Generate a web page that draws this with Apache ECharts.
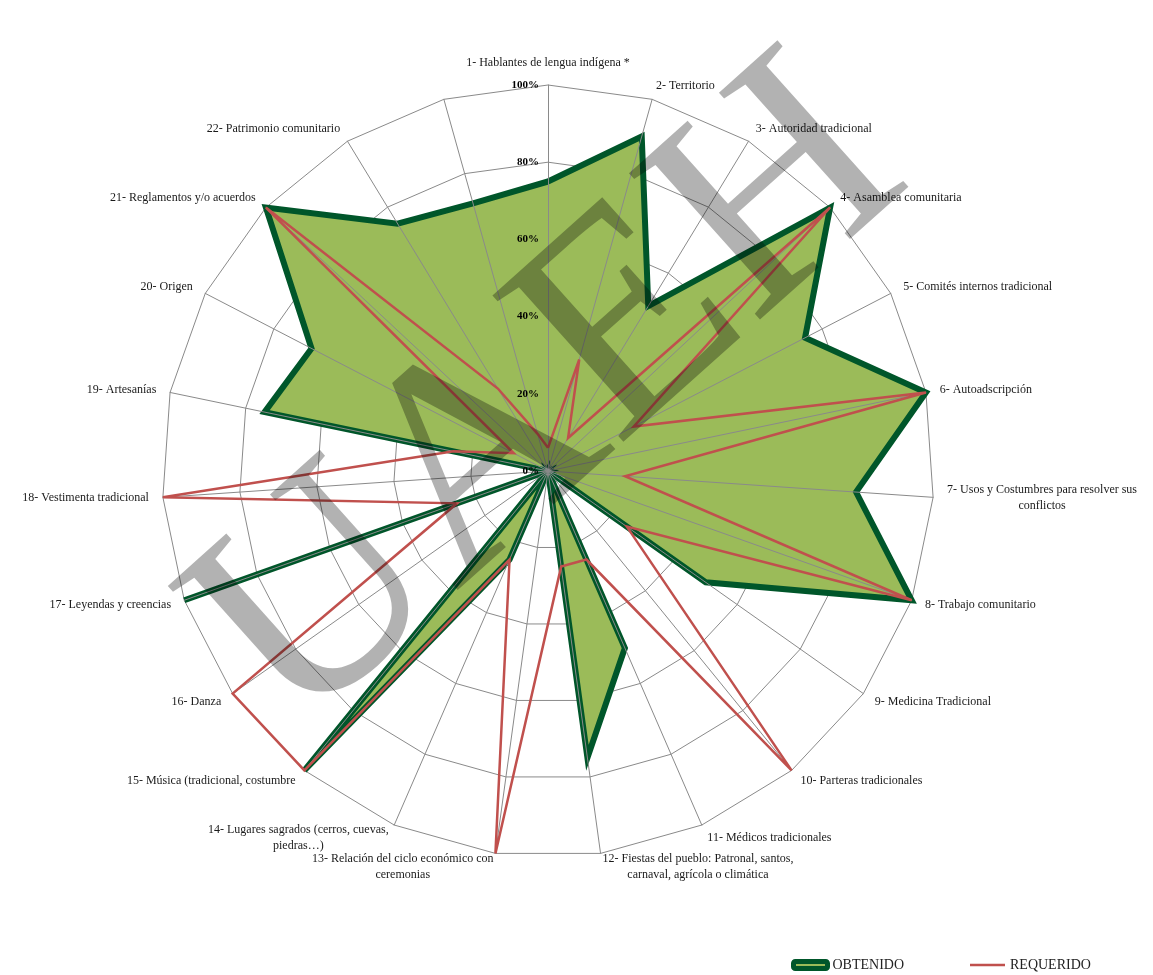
<!DOCTYPE html>
<html>
<head>
<meta charset="utf-8">
<title>Radar</title>
<script src="https://cdn.jsdelivr.net/npm/echarts@6/dist/echarts.min.js"></script>
<style>
    html, body { margin: 0; padding: 0; background: #fff; }
    #chartRadar { width: 1153px; height: 975px; }
</style>
</head>
<body>
<div id="chartRadar"></div>
<script>
// ejes del radar (el 23 no tiene nombre en el original)
var categorias = [
    '1- Hablantes de lengua indígena *',
    '2- Territorio',
    '3- Autoridad tradicional',
    '4- Asamblea comunitaria',
    '5- Comités internos tradicional',
    '6- Autoadscripción',
    '7- Usos y Costumbres para resolver sus\nconflictos',
    '8- Trabajo comunitario',
    '9- Medicina Tradicional',
    '10- Parteras tradicionales',
    '11- Médicos tradicionales',
    '12- Fiestas del pueblo: Patronal, santos,\ncarnaval, agrícola o climática',
    '13- Relación del ciclo económico con\nceremonias',
    '14- Lugares sagrados (cerros, cuevas,\npiedras…)',
    '15- Música (tradicional, costumbre',
    '16- Danza',
    '17- Leyendas y creencias',
    '18- Vestimenta tradicional',
    '19- Artesanías',
    '20- Origen',
    '21- Reglamentos y/o acuerdos',
    '22- Patrimonio comunitario',
    ''
];
// porcentaje obtenido
var obtenido = [75, 90, 50, 100, 75, 100, 80, 100, 50, 0, 50, 75, 0, 25, 100, 0, 100, 0, 75, 69, 100, 75, 72];
// porcentaje requerido
var requerido = [6, 30, 10, 100, 25, 100, 20, 100, 25, 100, 25, 25, 100, 25, 100, 100, 25, 100, 25, 10, 100, 25, 10];
var ticks = ['0%', '20%', '40%', '60%', '80%', '100%'];

// echarts dibuja en sentido antihorario, el original va en sentido horario
var orden = [0];
for (var i = categorias.length - 1; i > 0; i--) orden.push(i);

var indicadores = orden.map(function (i) {
    return { name: categorias[i], min: 0, max: 100 };
});
var indicadoresEje = orden.map(function (i, k) {
    var ind = { name: '', min: 0, max: 100 };
    if (k === 0) ind.axisLabel = { show: true };
    return ind;
});
var valoresObt = orden.map(function (i) { return obtenido[i]; });
var valoresReq = orden.map(function (i) { return requerido[i]; });

var serif = '"Liberation Serif", "DejaVu Serif", serif';
var chartRadar = echarts.init(document.getElementById('chartRadar'));
chartRadar.setOption({
    animation: false,
    backgroundColor: '#fff',
    legend: [{
        data: ['OBTENIDO'],
        left: 786,
        top: 953,
        icon: 'roundRect',
        itemWidth: 34,
        itemHeight: 7,
        itemGap: 6,
        itemStyle: { color: '#9BBB59', borderColor: '#00562a', borderWidth: 5 },
        textStyle: { fontFamily: serif, fontSize: 14, color: '#222' }
    }, {
        data: ['REQUERIDO'],
        left: 965,
        top: 953,
        icon: 'rect',
        itemWidth: 35,
        itemHeight: 2.5,
        itemStyle: { color: '#C0504D', borderWidth: 0 },
        textStyle: { fontFamily: serif, fontSize: 14, color: '#222' }
    }],
    radar: [{
        center: [548, 471],
        radius: 386,
        startAngle: 90,
        shape: 'polygon',
        splitNumber: 5,
        nameGap: 14,
        indicator: indicadores,
        axisName: {
            color: '#1a1a1a',
            fontFamily: serif,
            fontSize: 12,
            formatter: function (nombre) {
                if (!nombre) return '';
                return nombre.split('\n').map(function (l) { return '{c|' + l + '}'; }).join('\n');
            },
            rich: { c: { align: 'center', fontFamily: serif, fontSize: 12, color: '#1a1a1a', lineHeight: 16 } }
        },
        axisLine: { show: false },
        axisLabel: { show: false },
        splitLine: { lineStyle: { color: '#8a8a8a', width: 1 } },
        splitArea: { show: false }
    }, {
        // solo los radios, por encima del area y del borde verde
        z: 5,
        center: [548, 471],
        radius: 386,
        startAngle: 90,
        shape: 'polygon',
        splitNumber: 5,
        indicator: indicadoresEje,
        axisName: { show: false },
        axisLine: { lineStyle: { color: '#8a8a8a', width: 1 } },
        axisLabel: {
            show: false,
            fontFamily: serif,
            fontSize: 11,
            fontWeight: 'bold',
            color: '#000',
            margin: 9,
            formatter: function (v) { return ticks[Math.round(v / 20)]; }
        },
        splitLine: { show: false },
        splitArea: { show: false }
    }],
    series: [{
        // relleno
        name: 'OBTENIDO',
        type: 'radar',
        radarIndex: 0,
        symbol: 'none',
        z: 2,
        lineStyle: { width: 0, opacity: 0 },
        itemStyle: { color: '#9BBB59' },
        areaStyle: { color: '#9BBB59', opacity: 1 },
        data: [{ name: 'OBTENIDO', value: valoresObt }]
    }, {
        // borde
        name: 'OBTENIDO',
        type: 'radar',
        radarIndex: 0,
        symbol: 'none',
        z: 4,
        lineStyle: { color: '#00562a', width: 6, join: 'miter' },
        itemStyle: { color: '#00562a' },
        data: [{ name: 'OBTENIDO', value: valoresObt }]
    }, {
        name: 'REQUERIDO',
        type: 'radar',
        radarIndex: 0,
        symbol: 'none',
        z: 7,
        lineStyle: { color: '#C0504D', width: 2.5, join: 'miter' },
        itemStyle: { color: '#C0504D' },
        data: [{ name: 'REQUERIDO', value: valoresReq }]
    }],
    graphic: [{
        type: 'text',
        x: 552,
        y: 400,
        rotation: 0.73,
        z: 100,
        silent: true,
        style: {
            text: 'UAEH',
            font: '300px "Liberation Serif"',
            fill: 'rgba(0,0,0,0.3)',
            align: 'center',
            verticalAlign: 'middle'
        }
    }]
});
</script>
</body>
</html>
